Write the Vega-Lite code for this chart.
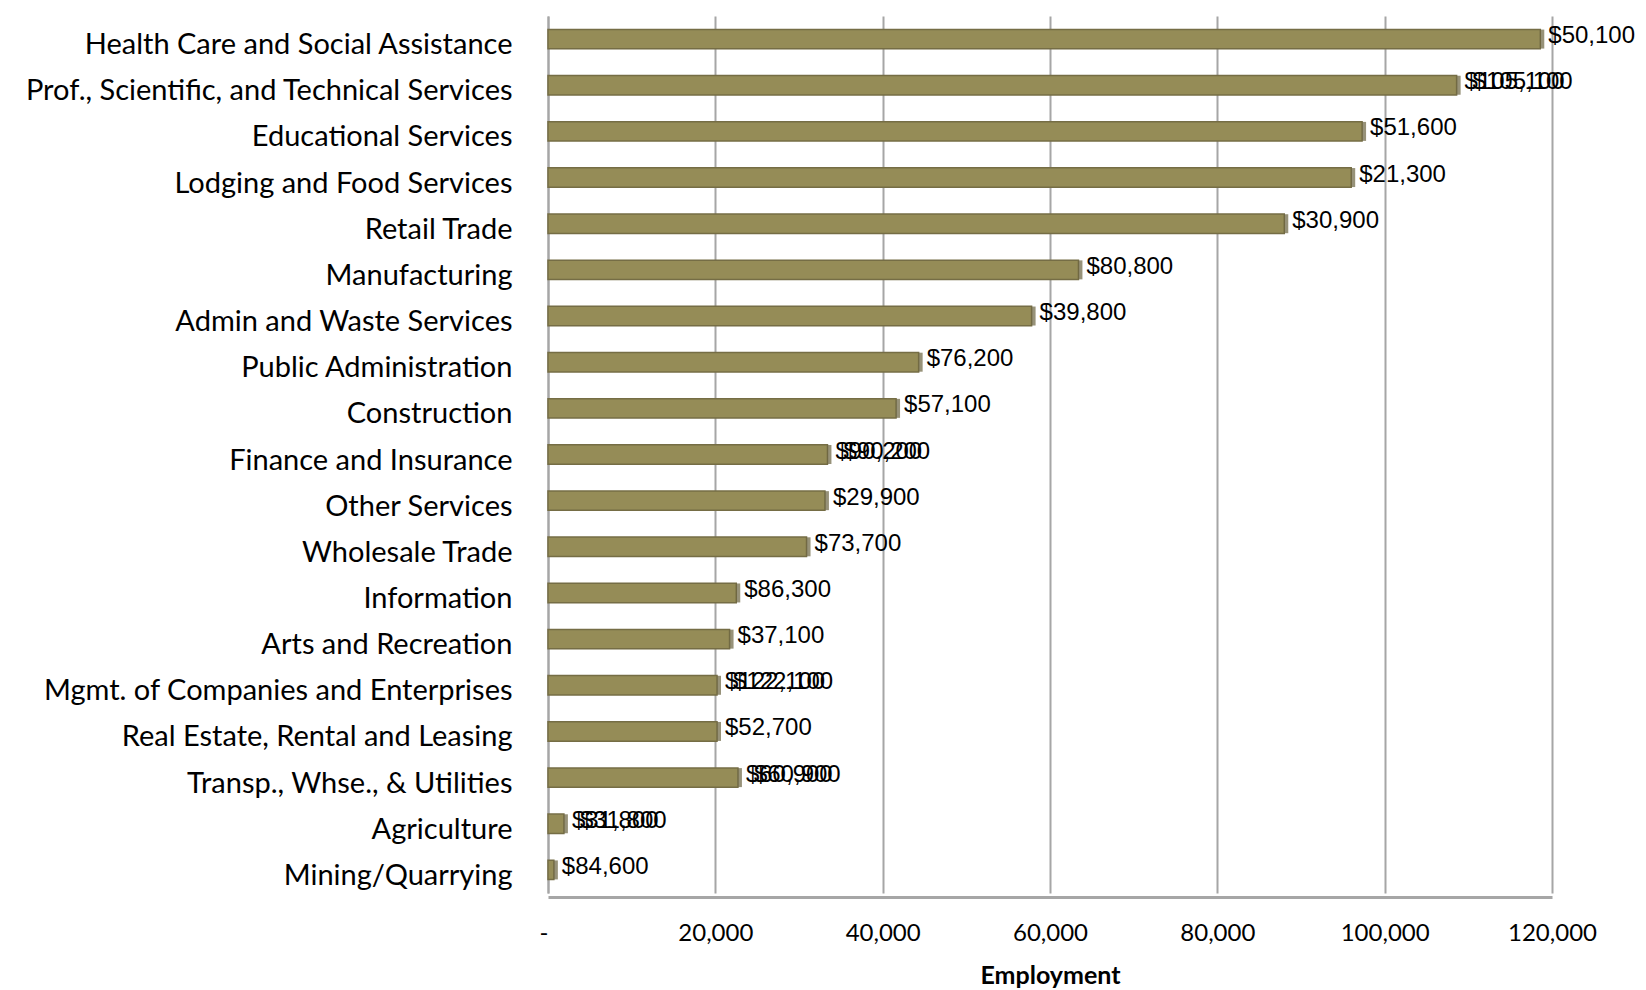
{
  "$schema": "https://vega.github.io/schema/vega-lite/v6.json",
  "width": 1004,
  "height": 877,
  "autosize": {"type": "none"},
  "padding": {"left": 548, "top": 16, "right": 94, "bottom": 97},
  "background": "white",
  "config": {"view": {"stroke": null}},
  "data": {
    "values": [
      {"industry": "Health Care and Social Assistance", "employment": 118600, "wage": "$50,100", "wage2": null},
      {"industry": "Prof., Scientific, and Technical Services", "employment": 108600, "wage": "$105,100", "wage2": "$105,100"},
      {"industry": "Educational Services", "employment": 97300, "wage": "$51,600", "wage2": null},
      {"industry": "Lodging and Food Services", "employment": 96000, "wage": "$21,300", "wage2": null},
      {"industry": "Retail Trade", "employment": 88000, "wage": "$30,900", "wage2": null},
      {"industry": "Manufacturing", "employment": 63400, "wage": "$80,800", "wage2": null},
      {"industry": "Admin and Waste Services", "employment": 57800, "wage": "$39,800", "wage2": null},
      {"industry": "Public Administration", "employment": 44300, "wage": "$76,200", "wage2": null},
      {"industry": "Construction", "employment": 41600, "wage": "$57,100", "wage2": null},
      {"industry": "Finance and Insurance", "employment": 33400, "wage": "$90,200", "wage2": "$90,200"},
      {"industry": "Other Services", "employment": 33100, "wage": "$29,900", "wage2": null},
      {"industry": "Wholesale Trade", "employment": 30900, "wage": "$73,700", "wage2": null},
      {"industry": "Information", "employment": 22500, "wage": "$86,300", "wage2": null},
      {"industry": "Arts and Recreation", "employment": 21700, "wage": "$37,100", "wage2": null},
      {"industry": "Mgmt. of Companies and Enterprises", "employment": 20200, "wage": "$122,100", "wage2": "$122,100"},
      {"industry": "Real Estate, Rental and Leasing", "employment": 20200, "wage": "$52,700", "wage2": null},
      {"industry": "Transp., Whse., & Utilities", "employment": 22700, "wage": "$60,900", "wage2": "$60,900"},
      {"industry": "Agriculture", "employment": 1900, "wage": "$31,800", "wage2": "$31,800"},
      {"industry": "Mining/Quarrying", "employment": 700, "wage": "$84,600", "wage2": null}
    ]
  },
  "encoding": {
    "y": {
      "field": "industry",
      "type": "nominal",
      "sort": null,
      "scale": {"paddingInner": 0.58, "paddingOuter": 0.29},
      "axis": {
        "title": null,
        "labelFont": "Lato",
        "labelFontSize": 29,
        "labelColor": "#000000",
        "labelLimit": 0,
        "labelPadding": 36,
        "labelOffset": 6,
        "ticks": false,
        "domain": true,
        "domainColor": "#a6a6a6",
        "domainWidth": 2
      }
    },
    "x": {
      "field": "employment",
      "type": "quantitative",
      "scale": {"domain": [0, 120000], "nice": false},
      "axis": {
        "title": "Employment",
        "titleFont": "Lato",
        "titleFontSize": 25,
        "titleFontWeight": "bold",
        "titleColor": "#000000",
        "titlePadding": 18,
        "values": [0, 20000, 40000, 60000, 80000, 100000, 120000],
        "labelExpr": "datum.value === 0 ? '-' : format(datum.value, ',')",
        "labelAlign": {"expr": "datum.value === 0 ? 'right' : 'center'"},
        "labelFont": "Lato",
        "labelFontSize": 24,
        "labelColor": "#000000",
        "labelPadding": 24,
        "offset": 4,
        "ticks": false,
        "grid": true,
        "gridColor": "#a6a6a6",
        "gridWidth": 2,
        "domain": true,
        "domainColor": "#a6a6a6",
        "domainWidth": 3
      }
    }
  },
  "layer": [
    {
      "mark": {"type": "bar", "color": "#958c57", "stroke": "#756d45", "strokeWidth": 1.5}
    },
    {
      "mark": {"type": "tick", "orient": "vertical", "color": "#6b6440", "thickness": 4, "size": 19, "xOffset": 2}
    },
    {
      "mark": {"type": "text", "align": "left", "baseline": "middle", "dx": 8, "dy": -3, "font": "Liberation Sans", "fontSize": 24, "color": "#000000"},
      "encoding": {"text": {"field": "wage", "type": "nominal"}}
    },
    {
      "transform": [{"filter": "datum.wage2 != null"}],
      "mark": {"type": "text", "align": "left", "baseline": "middle", "dx": 16, "dy": -3, "font": "Liberation Sans", "fontSize": 24, "color": "#000000"},
      "encoding": {"text": {"field": "wage2", "type": "nominal"}}
    }
  ]
}
